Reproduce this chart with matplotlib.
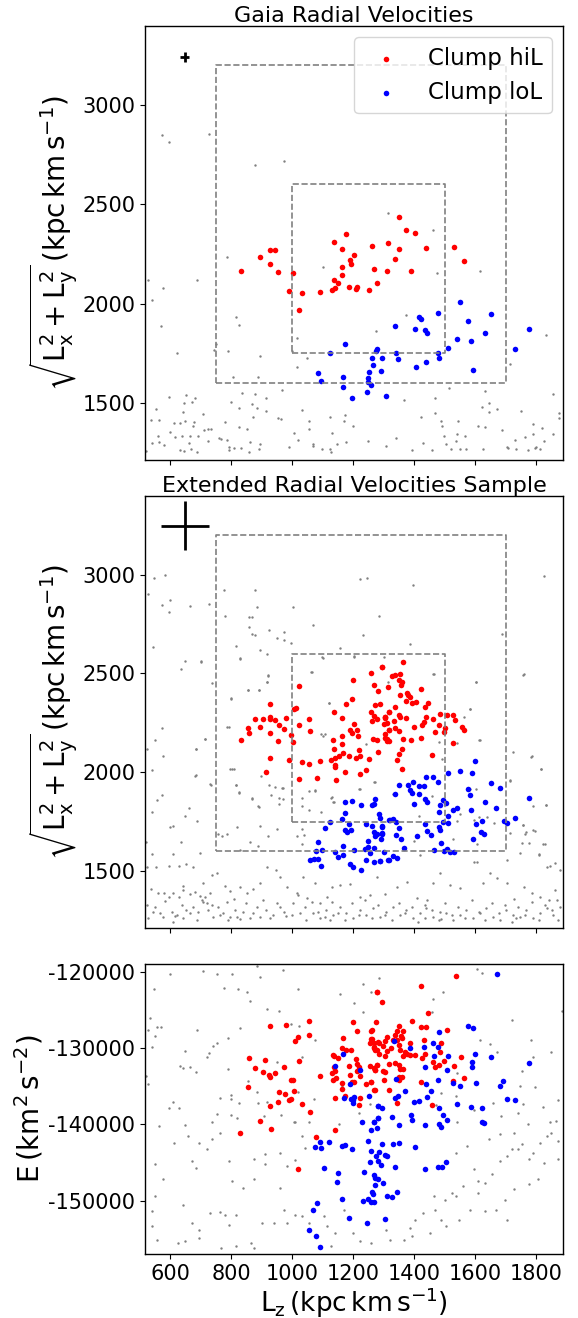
import numpy as np
import matplotlib.pyplot as plt

plt.rcParams['axes.unicode_minus'] = False
plt.rcParams['axes.linewidth'] = 1.0

# ---- data (Lz, |Lxy|) and (Lz, E) ----
gaia_hil = np.array([
    [1351, 2436], [1372, 2369], [1404, 2355], [1178, 2348], [1138, 2308], [1315, 2303],
    [1262, 2290], [1439, 2281], [1351, 2276], [1165, 2276], [1531, 2285], [928, 2271],
    [943, 2268], [1204, 2244], [895, 2232], [1189, 2221], [1337, 2226], [1563, 2212],
    [926, 2200], [1193, 2197], [1163, 2185], [832, 2162], [955, 2158], [1003, 2153],
    [1267, 2172], [1311, 2163], [1390, 2163], [1164, 2143], [1137, 2118], [1149, 2103],
    [1278, 2101], [1188, 2083], [1212, 2081], [1208, 2074], [1141, 2077], [1130, 2069],
    [1251, 2067], [991, 2061], [1031, 2054], [1092, 2059], [1022, 1965]])

gaia_lol = np.array([
    [1549, 2008], [1479, 1951], [1651, 1948], [1416, 1933], [1422, 1921], [1578, 1914],
    [1338, 1889], [1404, 1872], [1436, 1867], [1443, 1852], [1777, 1870], [1631, 1852],
    [1542, 1822], [1588, 1813], [1174, 1796], [1510, 1778], [1732, 1773], [1279, 1771],
    [1275, 1763], [1123, 1749], [1341, 1753], [1478, 1751], [1263, 1727], [1296, 1724],
    [1483, 1724], [1346, 1719], [1440, 1705], [1266, 1690], [1406, 1678], [1592, 1663],
    [1085, 1652], [1291, 1660], [1251, 1655], [1167, 1631], [1250, 1625], [1096, 1608],
    [1250, 1603], [1258, 1591], [1167, 1579], [1247, 1554], [1307, 1535], [1198, 1525]])

gaia_bg = np.array([
    [1314, 2456], [1461, 2369], [788, 2234], [1100, 2183], [1474, 2153], [1615, 2165],
    [528, 2116], [687, 2121], [576, 2079], [540, 2018], [816, 1933], [826, 1892],
    [570, 1889], [1374, 1943], [1275, 1862], [1017, 1828], [1833, 1840], [751, 1796],
    [743, 1764], [622, 1749], [791, 1759], [896, 1734], [1000, 1759], [1050, 1724],
    [1017, 1680], [1713, 1697], [806, 1630], [887, 1630], [967, 1566], [835, 1549],
    [879, 1542], [914, 1525], [800, 1505], [827, 1476], [870, 1495], [884, 1473],
    [914, 1460], [1031, 1465], [597, 1527], [652, 1537], [682, 1524], [645, 1497],
    [671, 1502], [554, 1468], [644, 1456], [707, 1444], [538, 1412], [565, 1414],
    [648, 1409], [612, 1396], [633, 1397], [674, 1385], [680, 1402], [726, 1367],
    [710, 1365], [733, 1369], [601, 1355], [561, 1333], [617, 1328], [640, 1333],
    [664, 1333], [692, 1332], [761, 1322], [767, 1320], [781, 1402], [826, 1379],
    [852, 1369], [871, 1429], [955, 1421], [963, 1416], [1005, 1347], [1055, 1406],
    [1056, 1369], [1125, 1426], [1132, 1350], [1170, 1409], [1174, 1438], [1201, 1381],
    [1250, 1310], [1340, 1322], [1366, 1513], [1422, 1429], [1469, 1524], [1468, 1448],
    [1487, 1406], [1492, 1382], [1543, 1406], [1542, 1345], [1514, 1574], [1633, 1557],
    [1645, 1497], [1624, 1478], [1645, 1456], [1671, 1470], [1749, 1460], [1855, 1542],
    [1874, 1448], [1609, 1384], [1631, 1377], [1687, 1362], [1789, 1394], [1819, 1374],
    [1764, 1330], [1789, 1345], [1855, 1345], [541, 1300], [563, 1301], [579, 1286],
    [662, 1300], [725, 1306], [786, 1315], [794, 1278], [863, 1303], [896, 1291],
    [1021, 1311], [1067, 1283], [1070, 1291], [1146, 1295], [1176, 1305], [1428, 1296],
    [1499, 1333], [1504, 1291], [1538, 1308], [1568, 1333], [1705, 1278], [1732, 1311],
    [1825, 1308], [1798, 1276], [1811, 1266], [522, 1258], [632, 1261], [647, 1259],
    [668, 1268], [687, 1254], [793, 1261], [808, 1273], [834, 1274], [860, 1254],
    [893, 1269], [991, 1279], [1097, 1269], [1125, 1269], [1129, 1254], [1308, 1281],
    [1392, 1264], [1460, 1261], [1521, 1268], [1549, 1269], [1569, 1268], [1627, 1266],
    [1709, 1273], [1734, 1268], [1774, 1261], [1797, 1274], [1876, 1423], [573, 2848],
    [598, 2813], [728, 2853], [879, 2697], [972, 2716]])

ext_hil = np.array([
    [1295, 2533], [1260, 2503], [1200, 2466], [1022, 2436], [1268, 2441], [1283, 2409],
    [1195, 2372], [926, 2343], [1177, 2347], [1273, 2338], [1289, 2343], [1012, 2325],
    [1006, 2320], [1138, 2306], [1257, 2304], [1269, 2286], [1317, 2303], [1304, 2279],
    [878, 2267], [906, 2267], [927, 2279], [928, 2267], [944, 2266], [979, 2276],
    [1057, 2271], [1165, 2274], [1261, 2261], [1277, 2269], [1306, 2274], [957, 2240],
    [896, 2230], [1024, 2237], [1203, 2242], [1301, 2244], [1189, 2215], [1214, 2215],
    [855, 2224], [859, 2197], [926, 2198], [975, 2219], [1060, 2208], [1197, 2197],
    [1317, 2212], [1163, 2183], [995, 2187], [1215, 2182], [832, 2161], [955, 2156],
    [1004, 2151], [1134, 2165], [1266, 2168], [1277, 2161], [1305, 2175], [1310, 2158],
    [1164, 2141], [1138, 2116], [1167, 2099], [1218, 2111], [1280, 2101], [929, 2072],
    [991, 2060], [1031, 2052], [1054, 2042], [1092, 2059], [1129, 2064], [1142, 2074],
    [1155, 2081], [1187, 2081], [1208, 2072], [1222, 2082], [1251, 2065], [1140, 2035],
    [1142, 2027], [1172, 2001], [1242, 2013], [1223, 1990], [913, 2000], [1022, 1964],
    [1081, 1973], [1143, 1961],
    [1365, 2557], [1295, 2532], [1338, 2490], [1354, 2495], [1329, 2485], [1349, 2468],
    [1360, 2456], [1356, 2439], [1314, 2431], [1424, 2421], [1376, 2400], [1381, 2390],
    [1387, 2380], [1354, 2392], [1374, 2363], [1392, 2350], [1405, 2355], [1447, 2350],
    [1436, 2330], [1338, 2330], [1316, 2303], [1349, 2288], [1354, 2279], [1374, 2274],
    [1305, 2279], [1439, 2279], [1485, 2296], [1509, 2288], [1529, 2288], [1534, 2266],
    [1461, 2267], [1334, 2257], [1310, 2249], [1398, 2229], [1425, 2237], [1431, 2254],
    [1480, 2237], [1502, 2225], [1556, 2229], [1562, 2212], [1338, 2222], [1351, 2208],
    [1316, 2212], [1305, 2192], [1310, 2170], [1316, 2158], [1364, 2170], [1391, 2161],
    [1422, 2171], [1469, 2203], [1499, 2202], [1528, 2150], [1360, 2116], [1349, 2091],
    [1345, 2060], [1457, 2087], [1360, 2018]])

ext_lol = np.array([
    [1175, 1848], [1198, 1857], [1225, 1835], [1261, 1835], [1272, 1865], [1268, 1838],
    [1174, 1794], [1284, 1787], [1164, 1761], [1289, 1769], [1316, 1757], [1124, 1747],
    [1186, 1740], [1243, 1740], [1262, 1727], [1295, 1727], [1108, 1720], [1175, 1710],
    [1194, 1707], [1179, 1698], [1270, 1698], [1279, 1686], [1295, 1693], [1272, 1678],
    [1250, 1653], [1292, 1660], [1085, 1649], [1166, 1629], [1249, 1622], [1077, 1604],
    [1097, 1607], [1141, 1599], [1202, 1606], [1238, 1611], [1268, 1619], [1256, 1592],
    [1300, 1595], [1149, 1572], [1168, 1579], [1060, 1558], [1072, 1562], [1084, 1563],
    [1242, 1555], [1267, 1547], [1287, 1552], [1317, 1555], [1095, 1528], [1189, 1538],
    [1199, 1521], [1227, 1505],
    [1600, 2055], [1550, 2008], [1590, 1995], [1510, 1996], [1438, 1976], [1462, 1978],
    [1479, 1951], [1651, 1947], [1681, 1920], [1395, 1951], [1381, 1937], [1349, 1936],
    [1416, 1931], [1432, 1929], [1578, 1914], [1584, 1887], [1338, 1889], [1387, 1909],
    [1392, 1895], [1415, 1892], [1436, 1867], [1442, 1850], [1400, 1840], [1495, 1860],
    [1485, 1833], [1503, 1845], [1631, 1850], [1669, 1818], [1542, 1821], [1527, 1808],
    [1588, 1811], [1777, 1870], [1483, 1801], [1510, 1779], [1732, 1771], [1693, 1752],
    [1706, 1745], [1623, 1752], [1603, 1739], [1434, 1739], [1483, 1723], [1485, 1707],
    [1510, 1742], [1493, 1750], [1349, 1717], [1321, 1757], [1332, 1761], [1341, 1747],
    [1294, 1724], [1296, 1690], [1341, 1683], [1356, 1663], [1408, 1676], [1442, 1705],
    [1455, 1683], [1620, 1697], [1628, 1690], [1592, 1663], [1489, 1643], [1368, 1616],
    [1466, 1606], [1497, 1602], [1509, 1612], [1518, 1597], [1531, 1599], [1332, 1577],
    [1345, 1567], [1315, 1558], [1288, 1550]])

ext_bg = np.array([
    [548, 2981], [582, 2999], [527, 2900], [574, 2848], [600, 2870], [597, 2811],
    [667, 2841], [728, 2851], [777, 2924], [879, 2920], [779, 2789], [859, 2787],
    [870, 2784], [884, 2838], [1002, 2838], [858, 2735], [925, 2722], [867, 2700],
    [879, 2697], [951, 2678], [972, 2712], [972, 2671], [995, 2654], [815, 2641],
    [896, 2619], [917, 2597], [830, 2574], [1067, 2744], [1223, 2976], [1245, 2981],
    [1395, 2949], [1284, 2793], [1232, 2697], [1385, 2649], [1156, 2627], [1102, 2577],
    [1203, 2584], [1301, 2582], [1689, 2698], [1826, 2991], [545, 2633], [649, 2562],
    [702, 2560], [635, 2520], [922, 2489], [919, 2456], [739, 2452], [1065, 2506],
    [1314, 2456], [1464, 2498], [1602, 2457], [1757, 2494],
    [573, 2224], [551, 2161], [526, 2116], [540, 2013], [686, 2116], [576, 2082],
    [713, 2167], [801, 2372], [855, 2417], [891, 2414], [792, 2231], [804, 2018],
    [684, 1985], [730, 1943], [815, 1936], [827, 1899], [867, 1867], [890, 1825],
    [958, 1870], [969, 1922], [573, 1887], [556, 1862], [540, 1799], [649, 1779],
    [663, 1820], [611, 1729], [600, 1724], [687, 1752], [756, 1688], [769, 1678],
    [786, 1690], [819, 1724], [895, 1727], [949, 1712], [922, 1678], [887, 1629],
    [862, 1648], [830, 1606], [522, 1648], [635, 1648], [540, 1586], [611, 1584],
    [698, 1589], [1034, 1712], [1017, 1678], [1040, 1683], [1033, 1636], [1032, 1872],
    [1057, 1808], [1074, 1907], [1129, 1872], [1133, 1850], [1096, 1799], [1220, 1917],
    [1271, 1949], [1332, 1892], [1096, 2195], [1121, 2350], [1584, 2321], [1614, 2161],
    [1604, 1914], [1724, 2103], [1786, 2081], [1815, 2017], [1713, 1959], [1833, 1833],
    [1756, 1732], [1763, 1690], [1791, 1710], [1830, 1639], [1704, 1555], [1638, 1774],
    [1595, 1757], [1415, 1781], [1458, 1879], [1551, 1791], [1529, 1660], [1606, 1547],
    [1748, 1589], [1810, 1586], [1862, 1542], [1846, 1527], [1879, 1508],
    [1759, 2495], [1603, 2456], [1584, 2321], [1562, 2279], [1616, 2161], [1783, 2077],
    [1815, 2018], [1715, 1956], [1791, 1830], [1832, 1836], [1758, 1732], [1766, 1698],
    [1797, 1702], [1753, 1643], [1777, 1643], [1823, 1636], [1810, 1580], [1614, 1774],
    [1540, 1754], [1663, 1745], [1715, 1693], [1605, 1636], [1398, 1651], [1420, 1582],
    [1463, 2495], [1483, 2155], [1492, 2067], [1542, 2148], [1584, 1915],
    [703, 2562], [830, 2576], [921, 2490], [919, 2456], [855, 2417], [890, 2414],
    [800, 2374], [1122, 2352], [788, 2230], [713, 2168], [684, 2118], [808, 2018],
    [798, 2015], [897, 1980], [683, 1983], [734, 1937], [816, 1936], [925, 1937],
    [945, 1926], [967, 1921], [826, 1894], [930, 1887], [867, 1868], [970, 1865],
    [958, 1838], [887, 1828], [1034, 1830], [1054, 1904], [1076, 1909], [1130, 1873],
    [1136, 1851], [1270, 1949], [1221, 1915], [1243, 2144], [1109, 2193], [1100, 2182],
    [1098, 2582], [1202, 2586], [1062, 2505],
    [524, 1522], [553, 1519], [598, 1525], [631, 1525], [651, 1535], [676, 1522],
    [538, 1407], [562, 1387], [580, 1391], [595, 1370], [611, 1391], [631, 1370],
    [642, 1424], [644, 1404], [666, 1382], [682, 1394], [698, 1374], [707, 1441],
    [715, 1370], [720, 1340], [731, 1387], [737, 1480], [753, 1488], [780, 1426],
    [795, 1399], [808, 1357], [830, 1421], [851, 1387], [873, 1407], [895, 1438],
    [917, 1522], [946, 1505], [961, 1471], [983, 1421], [1015, 1387], [1037, 1471],
    [1048, 1362], [1075, 1438], [1092, 1340], [1114, 1370], [1130, 1421], [1157, 1429],
    [1190, 1434], [1223, 1370], [1256, 1379], [1278, 1471], [1305, 1384], [1343, 1421],
    [1376, 1446], [1409, 1362], [1442, 1354], [1463, 1438], [1485, 1488], [1518, 1429],
    [1551, 1413], [1595, 1547], [1627, 1438], [1649, 1488], [1671, 1463], [1704, 1438],
    [1726, 1357], [1759, 1421], [1786, 1387], [1813, 1370], [1841, 1354], [1862, 1404],
    [1879, 1320], [1835, 1522],
    [524, 1328], [551, 1320], [567, 1290], [584, 1350], [605, 1295], [622, 1278],
    [638, 1328], [653, 1303], [675, 1320], [691, 1295], [708, 1345], [724, 1303],
    [740, 1266], [757, 1320], [774, 1286], [795, 1269], [812, 1303], [828, 1256],
    [850, 1337], [872, 1286], [894, 1269], [915, 1303], [937, 1278], [959, 1320],
    [981, 1273], [1003, 1337], [1025, 1286], [1047, 1253], [1068, 1286], [1090, 1261],
    [1112, 1303], [1134, 1278], [1156, 1320], [1178, 1286], [1200, 1261], [1221, 1303],
    [1243, 1278], [1265, 1312], [1287, 1269], [1309, 1295], [1331, 1320], [1353, 1278],
    [1374, 1303], [1396, 1261], [1418, 1286], [1440, 1312], [1462, 1269], [1484, 1295],
    [1506, 1286], [1527, 1253], [1549, 1278], [1571, 1303], [1593, 1261], [1615, 1286],
    [1637, 1312], [1659, 1269], [1680, 1253], [1702, 1303], [1724, 1278], [1746, 1269],
    [1768, 1303], [1790, 1261], [1812, 1286], [1834, 1312], [1855, 1278], [1872, 1253],
    [529, 1261], [616, 1273], [790, 1253], [1123, 1253], [1436, 1261], [1489, 1256],
    [1735, 1261],
    [545, 1295], [578, 1269], [611, 1244], [644, 1261], [666, 1286], [687, 1252],
    [704, 1354], [737, 1328], [764, 1278], [786, 1345], [819, 1269], [840, 1295],
    [862, 1261], [884, 1320], [906, 1354], [928, 1261], [950, 1337], [972, 1295],
    [999, 1278], [1021, 1379], [1043, 1320], [1065, 1345], [1086, 1295], [1108, 1269],
    [1130, 1345], [1152, 1286], [1174, 1252], [1196, 1337], [1218, 1278], [1239, 1354],
    [1261, 1261], [1283, 1328], [1305, 1278], [1327, 1252], [1349, 1337], [1371, 1286],
    [1392, 1320], [1414, 1244], [1436, 1328], [1458, 1303], [1480, 1252], [1502, 1337],
    [1524, 1278], [1545, 1320], [1567, 1261], [1589, 1354], [1611, 1295], [1633, 1252],
    [1655, 1337], [1677, 1286], [1698, 1328], [1720, 1244], [1742, 1320], [1764, 1278],
    [1786, 1345], [1808, 1252], [1830, 1328], [1852, 1303], [1868, 1354]])

energy_hil = np.array([
    [1278, -122621], [1055, -126422], [928, -127121], [979, -126946], [1200, -126597],
    [1214, -127820], [1260, -127733], [1057, -128345], [1021, -128607], [1011, -129131],
    [1167, -128738], [1259, -128825], [1267, -129350], [1282, -129262], [1269, -129874],
    [1278, -130223], [1164, -130005], [1177, -130223], [1194, -130223], [859, -131316],
    [912, -131621], [1024, -131752], [1134, -130922], [1139, -131010], [1150, -131359],
    [1208, -131447], [1212, -132058], [877, -132670], [975, -132495], [906, -133194],
    [944, -133282], [925, -133587], [926, -133806], [1137, -132495], [1130, -133282],
    [1141, -133063], [1188, -132408], [1220, -132495], [1214, -133063], [1254, -132408],
    [1278, -132190], [1272, -132845], [1092, -133719], [996, -134156], [1004, -134243],
    [1190, -133500], [1224, -133631], [1143, -133937], [1134, -134243], [1162, -134592],
    [1196, -134418], [1203, -134418], [1243, -134680], [1258, -134505], [854, -135117],
    [1006, -135597], [957, -135816], [977, -135991], [1162, -135335], [1269, -135466],
    [991, -136777], [996, -136689], [955, -137082], [1031, -137344], [927, -137650],
    [1141, -136515], [1173, -136296], [1222, -136515], [1218, -137432], [1059, -138437],
    [895, -139573], [930, -140578], [1142, -140709], [830, -141184], [1018, -145921],
    [1078, -141710],
    [1536, -120524], [1421, -121835], [1279, -122665], [1295, -123932], [1445, -125461],
    [1275, -126553], [1392, -126422], [1422, -127252], [1439, -127209], [1508, -127689],
    [1349, -127121], [1365, -127733], [1343, -127820], [1356, -128388], [1338, -128257],
    [1345, -128913], [1360, -128694], [1332, -128913], [1310, -128563], [1306, -129131],
    [1261, -127689], [1261, -128825], [1256, -129350], [1267, -130005], [1284, -129350],
    [1299, -129787], [1272, -130311], [1310, -130442], [1286, -130748], [1323, -129961],
    [1349, -129568], [1388, -129394], [1433, -128957], [1489, -129394], [1354, -130223],
    [1370, -130573], [1365, -131097], [1376, -130791], [1403, -130922], [1387, -130879],
    [1303, -131097], [1427, -131316], [1436, -130791], [1462, -131796], [1498, -131709],
    [1485, -130486], [1555, -131185], [1532, -132364], [1480, -132233], [1468, -132539],
    [1278, -132189], [1267, -132670], [1272, -132845], [1299, -133063], [1305, -133151],
    [1316, -132146], [1338, -132015], [1349, -132233], [1365, -132757], [1354, -132713],
    [1352, -133762], [1360, -133806], [1349, -134156], [1302, -134156], [1258, -134461],
    [1422, -134505], [1528, -134374], [1564, -133980], [1271, -135466], [1319, -135554],
    [1345, -137213], [1457, -137519]])

energy_lol = np.array([
    [1167, -130748], [1141, -132408], [1224, -132845], [1191, -134680], [1171, -136559],
    [1199, -136777], [1192, -136690], [1201, -137213], [1202, -136428], [1251, -136253],
    [1282, -137563], [1282, -139180], [1228, -139704], [1267, -139748], [1278, -140490],
    [1260, -140709],
    [1670, -120262], [1578, -127165], [1593, -127427], [1483, -127907], [1334, -129044],
    [1462, -129350], [1479, -129874], [1433, -129918], [1387, -130005], [1465, -131053],
    [1510, -131010], [1600, -130748], [1651, -131185], [1589, -131840], [1590, -132539],
    [1436, -132495], [1509, -132845], [1777, -131928], [1479, -134243], [1692, -134287],
    [1681, -135029], [1603, -134549], [1529, -134636], [1549, -134986], [1438, -134767],
    [1341, -134112], [1369, -135597], [1454, -135685], [1346, -136340], [1338, -136559],
    [1443, -136384], [1416, -136996], [1400, -137127], [1281, -137563], [1296, -137912],
    [1483, -137825], [1542, -137388], [1585, -137694], [1621, -137868], [1705, -136733],
    [1732, -136864], [1391, -138830], [1493, -138743], [1508, -139398], [1328, -139049],
    [1282, -139180], [1393, -139442], [1267, -139748], [1349, -140097], [1436, -140141],
    [1482, -140010], [1489, -140403], [1624, -139704], [1629, -139791],
    [1090, -142325], [1122, -142281], [1074, -142982], [1094, -143114], [1162, -142851],
    [1172, -142763], [1195, -143202], [1249, -142193], [1296, -142631], [1331, -142587],
    [1351, -142456], [1404, -143026], [1259, -143553], [1284, -143641], [1276, -144167],
    [1254, -144912], [1306, -143992], [1312, -144123], [1283, -144781], [1292, -145395],
    [1337, -145614], [1434, -145877], [1477, -145614], [1492, -145570], [1505, -144956],
    [1104, -145702], [1150, -146360], [1147, -147588], [1236, -146228], [1267, -146667],
    [1272, -147018], [1280, -147237], [1273, -147983], [1298, -147763], [1249, -149781],
    [1259, -150219], [1267, -150175], [1263, -148860], [1265, -149167], [1234, -150044],
    [1164, -149737], [1310, -149342], [1328, -149518], [1344, -148860], [1081, -150351],
    [1070, -151184], [1186, -152325], [1304, -152412], [1244, -152895], [1056, -153860],
    [1080, -154605], [1093, -156053]])

energy_bg = np.array([
    [600, -120307], [707, -119914], [754, -120307], [803, -120307], [884, -119302],
    [896, -120744], [971, -119783], [548, -122229], [777, -122098], [824, -122229],
    [852, -122622], [861, -123846], [919, -124894], [957, -125200], [1020, -122273],
    [1156, -122884], [1204, -124151], [1233, -121617], [1258, -122666], [1284, -120831],
    [1232, -125287], [1459, -125244], [1493, -122666], [1461, -123627], [1605, -119651],
    [1622, -120219], [1722, -126292], [1885, -125112], [535, -126074], [558, -127253],
    [570, -127209], [529, -127603], [551, -128389], [540, -129875], [687, -127603],
    [791, -128739], [740, -129700], [755, -129307], [830, -127341], [995, -126860],
    [1023, -127122], [1075, -128914], [648, -130399], [720, -131229], [729, -130618],
    [633, -132409], [641, -132671], [685, -133152], [789, -132758], [950, -131884],
    [1034, -131229], [1615, -128914], [1648, -129439], [1672, -130574], [1783, -128914],
    [1791, -131229], [1850, -130574], [1752, -132977], [1748, -134943], [1796, -135161],
    [1823, -137783], [1873, -136778], [1866, -139530], [1844, -139705], [1740, -138526],
    [1756, -137302], [1774, -140011], [1685, -138963], [1659, -137215], [1621, -137958],
    [1595, -138089], [1540, -139749], [1539, -133239], [1536, -136341], [1488, -135904],
    [1472, -137433], [528, -134681], [522, -133720], [609, -137127], [598, -137870],
    [630, -137913], [667, -132540], [765, -136559], [800, -136210], [800, -136690],
    [856, -134287], [827, -137171], [886, -135730], [887, -137215], [917, -137127],
    [907, -138875], [737, -139749], [755, -138613], [799, -138744], [821, -139181],
    [649, -140054], [565, -140278], [964, -138744], [1007, -139662], [1010, -139705],
    [1021, -135773], [1073, -136690], [1057, -139749], [1154, -140011], [1162, -134943],
    [1218, -138526], [1255, -137302],
    [552, -145263], [576, -147237], [552, -149430], [540, -151404], [540, -153377],
    [558, -155132], [612, -142412], [660, -141535], [672, -144825], [686, -145702],
    [720, -143290], [696, -142412], [738, -141974], [763, -141097], [641, -150526],
    [672, -152939], [626, -155570], [648, -155351], [696, -153816], [732, -151623],
    [763, -151491], [780, -151842], [792, -153158], [816, -151842], [804, -147456],
    [840, -148333], [792, -144825], [876, -147237], [912, -143947], [910, -145263],
    [960, -143728], [984, -145482], [1008, -144737], [1042, -143070], [1032, -141535],
    [876, -144605], [960, -148333], [972, -151184], [1008, -151842], [1032, -152061],
    [1056, -152939], [984, -152939], [942, -152939], [902, -152939], [864, -155570],
    [876, -156228], [816, -156009], [768, -156228], [696, -154912], [1104, -152061],
    [1116, -153377], [1128, -156009], [1140, -154254], [1170, -151184], [1200, -154254],
    [1224, -155351], [1260, -155570], [1308, -153816], [1320, -155132], [1368, -155132],
    [1404, -152500], [1386, -153597], [1428, -151623], [1470, -151184], [1500, -149868],
    [1506, -153377], [1536, -149430], [1560, -148114], [1596, -145921], [1608, -147456],
    [1632, -147675], [1656, -146579], [1680, -144825], [1704, -144167], [1722, -143290],
    [1740, -143290], [1752, -142632], [1776, -144605], [1788, -143728], [1812, -142412],
    [1824, -145044], [1836, -141535], [1848, -141096], [1870, -142193], [1872, -144605],
    [1806, -147237], [1776, -147895], [1728, -148553], [1698, -149868], [1668, -151184],
    [1632, -151404], [1584, -151184], [1548, -152500], [1488, -152500], [1464, -149430],
    [1608, -148991], [1536, -143728], [1572, -142851], [1524, -148991], [1644, -141974],
    [1680, -141316], [1728, -141097], [1704, -152500], [1392, -154693], [1452, -154254]])

# selection boxes [Lz_min, Lz_max, L_min, L_max] and error crosses [Lz, L, dLz, dL]
box_outer = [750, 1700, 1600, 3200]
box_inner = [1000, 1500, 1750, 2600]
err_gaia = [648, 3244, 15, 25]
err_ext = [648, 3247, 79, 124]

xlim = (518, 1888)
ylim_L = (1212, 3398)
ylim_E = (-157000, -119000)
xticks = [600, 800, 1000, 1200, 1400, 1600, 1800]

fig = plt.figure(figsize=(5.78, 13.18), dpi=100)
ax1 = fig.add_axes([0.2509, 0.6510, 0.7232, 0.3293])
ax2 = fig.add_axes([0.2509, 0.2959, 0.7232, 0.3278])
ax3 = fig.add_axes([0.2509, 0.0486, 0.7232, 0.2200])

lxy_label = r'$\sqrt{\rm L_x^2+L_y^2}\,\rm(kpc\,km\,s^{-1})$'


def draw_boxes(ax):
    for b in (box_outer, box_inner):
        ax.plot([b[0], b[1], b[1], b[0], b[0]], [b[2], b[2], b[3], b[3], b[2]],
                ls='--', color='grey', lw=1.2)


def style(ax):
    ax.set_xlim(*xlim)
    ax.set_xticks(xticks)
    ax.tick_params(labelsize=15)


for ax, bg, hil, lol, err, title in [
        (ax1, gaia_bg, gaia_hil, gaia_lol, err_gaia, 'Gaia Radial Velocities'),
        (ax2, ext_bg, ext_hil, ext_lol, err_ext, 'Extended Radial Velocities Sample')]:
    ax.scatter(bg[:, 0], bg[:, 1], s=3, c='grey', lw=0)
    ax.scatter(hil[:, 0], hil[:, 1], s=16, c='red', lw=0, label='Clump hiL')
    ax.scatter(lol[:, 0], lol[:, 1], s=16, c='blue', lw=0, label='Clump loL')
    draw_boxes(ax)
    ax.errorbar(err[0], err[1], xerr=err[2], yerr=err[3], color='black',
                lw=2, capsize=0)
    ax.set_ylim(*ylim_L)
    ax.set_yticks([1500, 2000, 2500, 3000])
    ax.set_title(title, fontsize=16, pad=3)
    ax.set_ylabel(lxy_label, fontsize=20, labelpad=2)
    style(ax)
    ax.set_xticklabels([])

ax1.legend(loc='upper right', fontsize=16.5, scatterpoints=1)

ax3.scatter(energy_bg[:, 0], energy_bg[:, 1], s=3, c='grey', lw=0)
ax3.scatter(energy_hil[:, 0], energy_hil[:, 1], s=16, c='red', lw=0)
ax3.scatter(energy_lol[:, 0], energy_lol[:, 1], s=16, c='blue', lw=0)
ax3.set_ylim(*ylim_E)
ax3.set_yticks([-150000, -140000, -130000, -120000])
ax3.ticklabel_format(useOffset=False, style='plain')
ax3.set_ylabel(r'$\rm E\,(km^2\,s^{-2})$', fontsize=20, labelpad=2)
ax3.set_xlabel(r'$\rm L_z\,(kpc\,km\,s^{-1})$', fontsize=19, labelpad=1)
style(ax3)

fig.savefig('out.png', dpi=100)
